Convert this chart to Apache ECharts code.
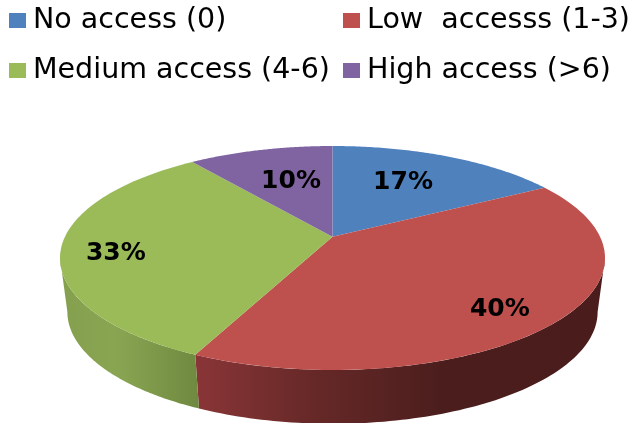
<!DOCTYPE html>
<html>
<head>
<meta charset="utf-8">
<script src="https://cdn.jsdelivr.net/npm/echarts@6/dist/echarts.min.js"></script>
<style>html,body{margin:0;padding:0;background:#fff}#c{width:642px;height:423px}</style>
</head>
<body>
<div id="c"></div>
<script>
var categories = ['No access (0)', 'Low  accesss (1-3)', 'Medium access (4-6)', 'High access (>6)'];
var labelPercents = [17, 40, 33, 10];
var drawnShares = [14.2, 44.2, 33, 8.6];
var topColors = ['#4f81bd', '#be504e', '#9bbb59', '#8064a2'];
var sideStops = [
  null,
  [[0, '#8a3537'], [0.3, '#652827'], [0.6, '#4b1e1d'], [1, '#4a1d1c']],
  [[0, '#84a04e'], [0.4, '#8aa552'], [1, '#6f8a40']],
  null
];
var labelReach = [0.6, 0.81, 0.795, 0.57];
var labelNudge = [-6, -4, -1, -6];

var APEX_Y = 0.19, BOTTOM_CY = -0.48, BOTTOM_RX = 0.973;
var total = drawnShares.reduce(function (a, b) { return a + b; }, 0);
var starts = [];
drawnShares.reduce(function (acc, v, i) { starts[i] = acc; return acc + v; }, 0);
function ang(share) { return share / total * Math.PI * 2; }

function renderSlice(idx) {
  return function (params, api) {
    var a0 = ang(starts[idx]), a1 = ang(starts[idx] + api.value(0));
    var n = 90, top = [api.coord([0, APEX_Y])], i, t;
    for (i = 0; i <= n; i++) {
      t = a0 + (a1 - a0) * i / n;
      top.push(api.coord([Math.sin(t), Math.cos(t)]));
    }
    var children = [];
    var s0 = Math.max(a0, Math.PI / 2), s1 = Math.min(a1, Math.PI * 1.5);
    if (sideStops[idx] && s1 > s0) {
      var side = [], back = [];
      for (i = 0; i <= n; i++) {
        t = s0 + (s1 - s0) * i / n;
        side.push(api.coord([Math.sin(t), Math.cos(t)]));
        back.unshift(api.coord([BOTTOM_RX * Math.sin(t), BOTTOM_CY + Math.cos(t)]));
      }
      children.push({
        type: 'polygon',
        shape: { points: side.concat(back) },
        style: {
          fill: new echarts.graphic.LinearGradient(0, 0, 1, 0,
            sideStops[idx].map(function (s) { return { offset: s[0], color: s[1] }; }))
        }
      });
    }
    children.push({
      type: 'polygon',
      shape: { points: top },
      style: { fill: topColors[idx] }
    });
    var mid = (a0 + a1) / 2, k = labelReach[idx];
    var p = api.coord([k * Math.sin(mid), APEX_Y + k * (Math.cos(mid) - APEX_Y)]);
    children.push({
      type: 'text',
      x: p[0], y: p[1] + labelNudge[idx],
      style: {
        text: labelPercents[idx] + '%',
        fill: '#000',
        font: 'bold 25px "DejaVu Sans", sans-serif',
        align: 'center', verticalAlign: 'middle'
      }
    });
    return { type: 'group', children: children };
  };
}

var legendSpots = [[9, 6], [343, 6], [9, 56], [343, 56]];
var chart = echarts.init(document.getElementById('c'), null, { renderer: 'canvas' });
chart.setOption({
  animation: false,
  backgroundColor: '#fff',
  grid: { left: 60, top: 146, width: 545, height: 224 },
  xAxis: { type: 'value', min: -1, max: 1, show: false },
  yAxis: { type: 'value', min: -1, max: 1, show: false },
  legend: categories.map(function (name, i) {
    return {
      data: [name],
      left: legendSpots[i][0], top: legendSpots[i][1],
      padding: 0, itemWidth: 17, itemHeight: 15, itemGap: 0,
      icon: 'rect', selectedMode: false,
      textStyle: { color: '#000', fontSize: 28.5, padding: [0, 0, 0, 2], fontFamily: '"DejaVu Sans", sans-serif' }
    };
  }),
  series: categories.map(function (name, i) {
    return {
      type: 'custom', name: name, coordinateSystem: 'cartesian2d',
      clip: false, silent: true, z: i,
      itemStyle: { color: topColors[i] },
      encode: { x: 0, y: null },
      data: [[drawnShares[i], 0]],
      renderItem: renderSlice(i)
    };
  })
});
</script>
</body>
</html>
